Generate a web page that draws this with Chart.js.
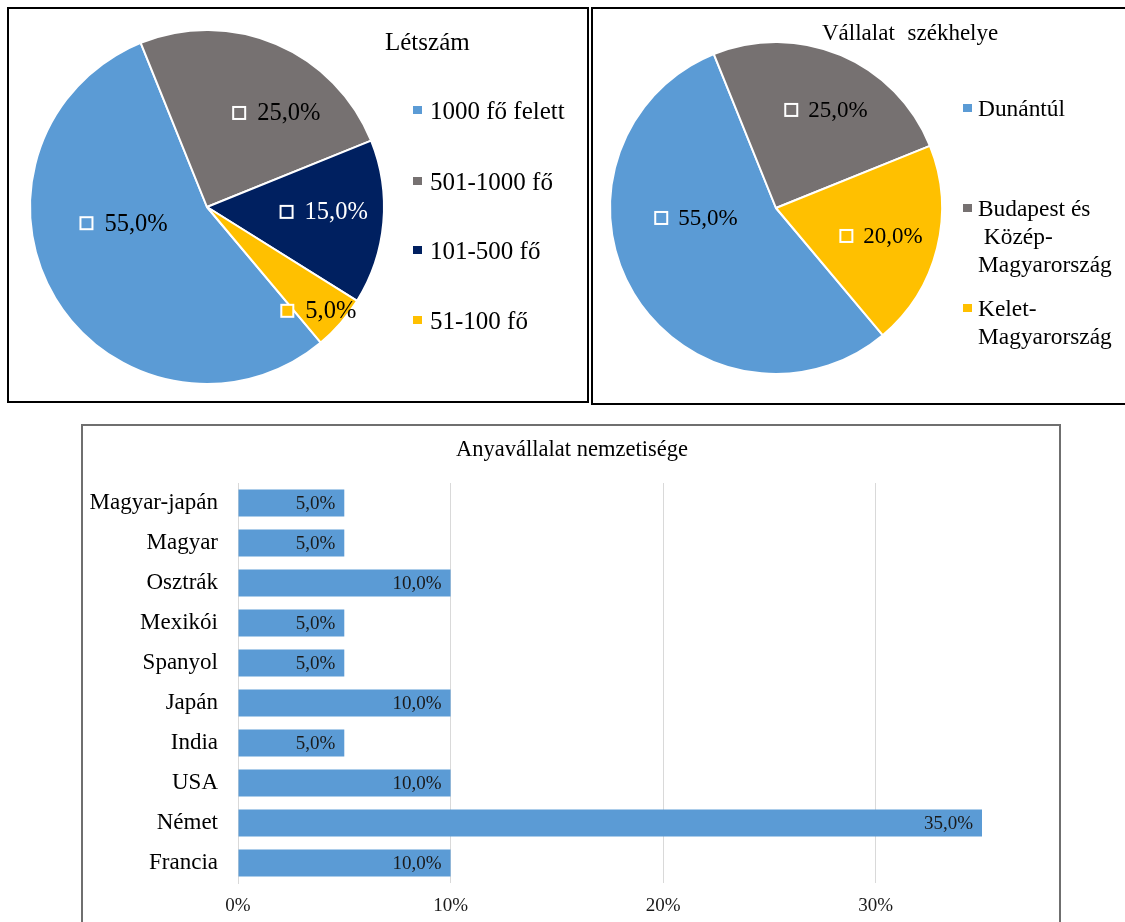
<!DOCTYPE html>
<html><head><meta charset="utf-8">
<script src="https://cdn.jsdelivr.net/npm/chart.js@4.4.1/dist/chart.umd.min.js"></script>
<style>
body{margin:0;background:#fff;width:1125px;height:922px;overflow:hidden;position:relative;font-family:'Liberation Serif','Times New Roman',serif;color:#000}
.panel{position:absolute;box-sizing:border-box}
.abs{position:absolute;white-space:nowrap}
canvas{position:absolute}
.sw{position:absolute}
</style></head><body>
<div class="panel" style="left:7px;top:7px;width:582px;height:396px;border:2px solid #000"></div>
<div class="panel" style="left:591px;top:7px;width:560px;height:398px;border:2px solid #000"></div>
<div class="panel" style="left:81px;top:424px;width:980px;height:520px;border:2px solid #6f6f6f"></div>

<canvas id="c1" width="578" height="392" style="left:9px;top:9px"></canvas>
<canvas id="c2" width="532" height="394" style="left:593px;top:9px"></canvas>
<canvas id="c3" width="975" height="496" style="left:83px;top:426px"></canvas>

<div id="t1" class="abs" style="left:385px;top:29px;font-size:25px;line-height:25px"></div>
<div id="lg1"></div>
<div id="t2" class="abs" style="left:822px;top:19px;font-size:23px;line-height:28px;word-spacing:7px"></div>
<div id="lg2"></div>
<div id="t3" class="abs" style="left:82px;width:980px;text-align:center;top:438px;font-size:22.5px;line-height:22px"></div>

<script>
// ---- data ----
const letszamTitle = 'Létszám';
const letszamLabels = ['1000 fő felett', '501-1000 fő', '101-500 fő', '51-100 fő'];
const letszamValues = [55, 25, 15, 5];

const szekhelyTitle = 'Vállalat székhelye';
const szekhelyLabels = ['Dunántúl', 'Budapest és Közép-Magyarország', 'Kelet-Magyarország'];
const szekhelyLegendLines = [['Dunántúl'], ['Budapest és', '\u00a0Közép-', 'Magyarország'], ['Kelet-', 'Magyarország']];
const szekhelyValues = [55, 25, 20];

const nemzetTitle = 'Anyavállalat nemzetisége';
const nemzetCategories = ['Magyar-japán', 'Magyar', 'Osztrák', 'Mexikói', 'Spanyol', 'Japán', 'India', 'USA', 'Német', 'Francia'];
const nemzetValues = [5, 5, 10, 5, 5, 10, 5, 10, 35, 10];
const nemzetTicks = [0, 10, 20, 30];

// ---- styles ----
const FONT = "'Liberation Serif','Times New Roman',serif";
const colors1 = ['#5B9BD5', '#767171', '#002060', '#FFC000'];
const colors2 = ['#5B9BD5', '#767171', '#FFC000'];
Chart.defaults.font.family = FONT;

document.getElementById('t1').textContent = letszamTitle;
document.getElementById('t2').textContent = szekhelyTitle;
document.getElementById('t3').textContent = nemzetTitle;

const fmt = v => v.toFixed(1).replace('.', ',') + '%';

const pieLabelPlugin = {
  id: 'pieLabels',
  afterDatasetsDraw(chart, args, opts) {
    const ctx = chart.ctx;
    const meta = chart.getDatasetMeta(0);
    const ds = chart.data.datasets[0];
    ctx.save();
    ctx.font = opts.size + 'px ' + FONT;
    ctx.textBaseline = 'middle';
    ctx.textAlign = 'left';
    meta.data.forEach((arc, i) => {
      const p = opts.place[i];
      const a = (arc.startAngle + arc.endAngle) / 2 + p.shift * Math.PI / 180;
      const d = arc.outerRadius * p.frac;
      const cx = arc.x + d * Math.cos(a), cy = arc.y + d * Math.sin(a);
      const txt = fmt(ds.data[i]);
      const w = ctx.measureText(txt).width;
      const gw = opts.box + opts.gap + w;
      const left = cx - gw / 2;
      const s = opts.box - 2;
      ctx.fillStyle = ds.backgroundColor[i];
      ctx.fillRect(left + 1, cy - s / 2, s, s);
      ctx.strokeStyle = '#fff';
      ctx.lineWidth = 2;
      ctx.strokeRect(left + 1, cy - s / 2, s, s);
      ctx.fillStyle = opts.colors[i];
      ctx.fillText(txt, left + opts.box + opts.gap, cy + opts.dy);
    });
    ctx.restore();
  }
};

const barLabelPlugin = {
  id: 'barLabels',
  afterDatasetsDraw(chart, args, opts) {
    const ctx = chart.ctx;
    const meta = chart.getDatasetMeta(0);
    const ds = chart.data.datasets[0];
    ctx.save();
    ctx.font = opts.size + 'px ' + FONT;
    ctx.textBaseline = 'middle';
    ctx.textAlign = 'right';
    ctx.fillStyle = opts.color;
    meta.data.forEach((bar, i) => {
      ctx.fillText(fmt(ds.data[i]), bar.x - opts.pad, bar.y + opts.dy);
    });
    ctx.restore();
  }
};

// ---- legends (HTML) ----
function buildLegend(id, items, colorsArr, o) {
  const host = document.getElementById(id);
  items.forEach((lines, i) => {
    const sw = document.createElement('div');
    sw.className = 'sw';
    sw.style.cssText = `left:${o.sx}px;top:${o.ys[i] - o.sq / 2}px;width:${o.sq}px;height:${o.sq}px;background:${colorsArr[i]}`;
    host.appendChild(sw);
    const t = document.createElement('div');
    t.className = 'abs';
    t.style.cssText = `left:${o.tx}px;top:${o.ys[i] - o.lh / 2}px;font-size:${o.fs}px;line-height:${o.lh}px`;
    lines.forEach((l, k) => {
      if (k) t.appendChild(document.createElement('br'));
      t.appendChild(document.createTextNode(l));
    });
    host.appendChild(t);
  });
}
buildLegend('lg1', letszamLabels.map(l => [l]), colors1, {sx: 413, tx: 430, sq: 8.5, fs: 25, lh: 25, ys: [110, 181, 250, 320]});
buildLegend('lg2', szekhelyLegendLines, colors2, {sx: 963, tx: 978, sq: 8.5, fs: 23.4, lh: 28, ys: [108, 208, 308]});

// ---- chart 1 ----
new Chart(document.getElementById('c1'), {
  type: 'pie',
  data: {labels: letszamLabels, datasets: [{data: letszamValues, backgroundColor: colors1, borderColor: '#fff', borderWidth: 2}]},
  options: {
    responsive: false, animation: false, rotation: 140,
    layout: {padding: {left: 20, top: 20, right: 202, bottom: 16}},
    plugins: {
      legend: {display: false}, tooltip: {enabled: false},
      pieLabels: {size: 24.5, box: 14, gap: 11, dy: 1, colors: ['#000', '#000', '#fff', '#000'],
        place: [{frac: .48, shift: 20}, {frac: .66, shift: 13.4}, {frac: .66, shift: -2.6}, {frac: .86, shift: 2}]}
    }
  },
  plugins: [pieLabelPlugin]
});

// ---- chart 2 ----
new Chart(document.getElementById('c2'), {
  type: 'pie',
  data: {labels: szekhelyLabels, datasets: [{data: szekhelyValues, backgroundColor: colors2, borderColor: '#fff', borderWidth: 2}]},
  options: {
    responsive: false, animation: false, rotation: 140,
    layout: {padding: {left: 16, top: 32, right: 182, bottom: 28}},
    plugins: {
      legend: {display: false}, tooltip: {enabled: false},
      pieLabels: {size: 23, box: 14, gap: 10, dy: 1, colors: ['#000', '#000', '#000'],
        place: [{frac: .486, shift: 23.9}, {frac: .663, shift: 4}, {frac: .655, shift: 0.9}]}
    }
  },
  plugins: [pieLabelPlugin]
});

// ---- chart 3 ----
new Chart(document.getElementById('c3'), {
  type: 'bar',
  data: {labels: nemzetCategories, datasets: [{data: nemzetValues, backgroundColor: '#5B9BD5', categoryPercentage: 1, barPercentage: 0.67}]},
  options: {
    indexAxis: 'y', responsive: false, animation: false,
    layout: {padding: {top: 57, right: 76, left: 0, bottom: 0}},
    plugins: {legend: {display: false}, tooltip: {enabled: false},
      barLabels: {size: 19, pad: 9, dy: 1.5, color: '#1a1a1a'}},
    scales: {
      x: {
        min: 0, max: 35,
        afterBuildTicks: s => { s.ticks = nemzetTicks.map(v => ({value: v})); },
        afterFit: s => { s.height = 39; },
        grid: {color: '#d9d9d9', drawTicks: false},
        border: {display: false},
        ticks: {padding: 12, maxRotation: 0, color: '#1a1a1a', font: {size: 19}, callback: v => v + '%'}
      },
      y: {
        afterFit: s => { s.width = 155; },
        grid: {display: false, drawTicks: false},
        border: {display: true, color: '#d9d9d9'},
        ticks: {padding: 20, autoSkip: false, color: '#000', font: {size: 23}}
      }
    }
  },
  plugins: [barLabelPlugin]
});
</script>
</body></html>
